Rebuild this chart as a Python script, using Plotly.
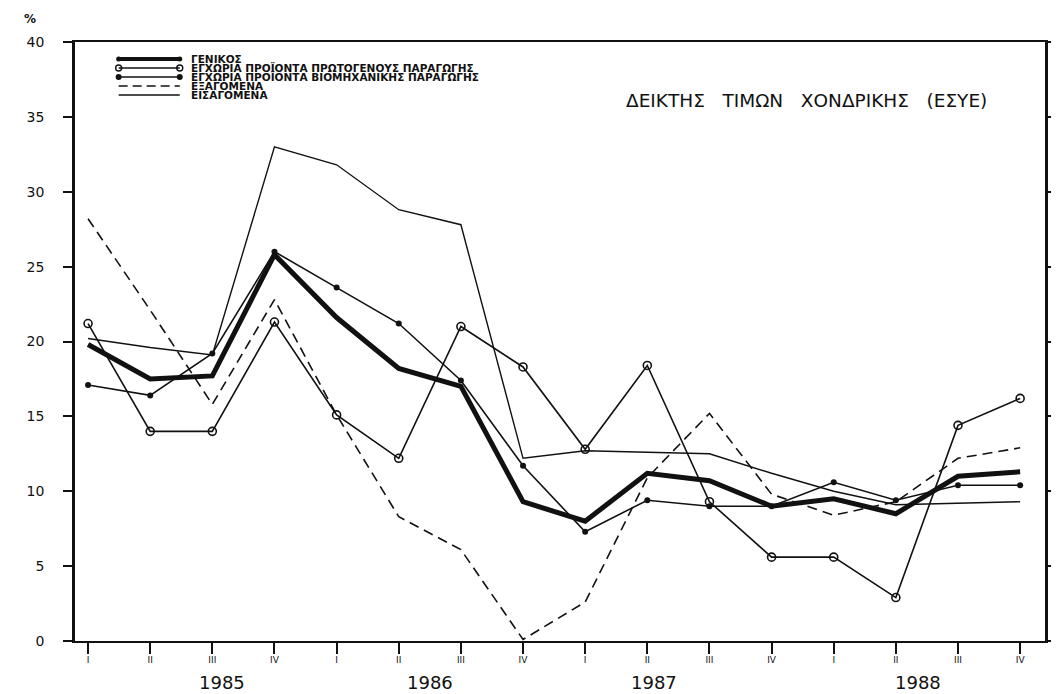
import plotly.graph_objects as go

# quarters 1985 I .. 1988 IV
quarters = ["I", "II", "III", "IV"] * 4
years = ["1985", "1986", "1987", "1988"]

genikos = [19.8, 17.5, 17.7, 25.8, 21.6, 18.2, 17.0, 9.3, 8.0, 11.2, 10.7, 9.0, 9.5, 8.5, 11.0, 11.3]
protogenous = [21.2, 14.0, 14.0, 21.3, 15.1, 12.2, 21.0, 18.3, 12.8, 18.4, 9.3, 5.6, 5.6, 2.9, 14.4, 16.2]
viomichanikis = [17.1, 16.4, 19.2, 26.0, 23.6, 21.2, 17.4, 11.7, 7.3, 9.4, 9.0, 9.0, 10.6, 9.4, 10.4, 10.4]
exagomena = [28.2, 22.1, 15.8, 22.8, 15.1, 8.3, 6.1, 0.1, 2.6, 10.9, 15.2, 9.8, 8.4, 9.3, 12.2, 12.9]
eisagomena = [20.2, 19.6, 19.1, 33.0, 31.8, 28.8, 27.8, 12.2, 12.7, 12.6, 12.5, 11.2, 10.0, 9.1, 9.2, 9.3]

legend_labels = [
    "ΓΕΝΙΚΟΣ",
    "ΕΓΧΩΡΙΑ ΠΡΟΪΟΝΤΑ ΠΡΩΤΟΓΕΝΟΥΣ ΠΑΡΑΓΩΓΗΣ",
    "ΕΓΧΩΡΙΑ ΠΡΟΪΟΝΤΑ ΒΙΟΜΗΧΑΝΙΚΗΣ ΠΑΡΑΓΩΓΗΣ",
    "ΕΞΑΓΟΜΕΝΑ",
    "ΕΙΣΑΓΟΜΕΝΑ",
]

INK = "#111111"
FONT = "DejaVu Sans"
x = list(range(len(quarters)))

styles = [
    dict(line=dict(color=INK, width=5), mode="lines"),
    dict(line=dict(color=INK, width=1.6), mode="lines+markers",
         marker=dict(symbol="circle-open", size=8, color=INK, line=dict(width=1.6))),
    dict(line=dict(color=INK, width=1.6), mode="lines+markers",
         marker=dict(symbol="circle", size=6, color=INK)),
    dict(line=dict(color=INK, width=1.6, dash="10px,6px"), mode="lines"),
    dict(line=dict(color=INK, width=1.4), mode="lines"),
]
series = [eisagomena, exagomena, protogenous, viomichanikis, genikos]
order = [4, 3, 1, 2, 0]

fig = go.Figure()
for s, i in zip(series, order):
    fig.add_trace(go.Scatter(x=x, y=s, name=legend_labels[i], showlegend=False, **styles[i]))

# hand-drawn legend block in the top left corner (overlay axis 0..1)
row_y = [0.9716, 0.9566, 0.9416, 0.9265, 0.9115]
leg_styles = [
    dict(line=dict(color=INK, width=4), mode="lines+markers", marker=dict(size=5, color=INK)),
    dict(line=dict(color=INK, width=1.4), mode="lines+markers",
         marker=dict(symbol="circle-open", size=6, color=INK, line=dict(width=1.4))),
    dict(line=dict(color=INK, width=1.4), mode="lines+markers", marker=dict(size=6, color=INK)),
    dict(line=dict(color=INK, width=1.6, dash="9px,5px"), mode="lines"),
    dict(line=dict(color=INK, width=1.4), mode="lines"),
]
for ry, st, lab in zip(row_y, leg_styles, legend_labels):
    fig.add_trace(go.Scatter(x=[0.045, 0.108], y=[ry, ry], xaxis="x3", yaxis="y3",
                             showlegend=False, hoverinfo="skip", **st))
    fig.add_annotation(x=0.118, y=ry, xref="paper", yref="paper", text="<b>" + lab + "</b>",
                       showarrow=False, xanchor="left", yanchor="middle",
                       font=dict(family=FONT, size=10.5, color=INK))

fig.add_annotation(x=0.754, y=0.923, xref="paper", yref="paper", xanchor="center",
                   text="ΔΕΙΚΤΗΣ   ΤΙΜΩΝ   ΧΟΝΔΡΙΚΗΣ   (ΕΣΥΕ)", showarrow=False,
                   font=dict(family=FONT, size=18.5, color=INK))
fig.add_annotation(x=-0.046, y=1.038, xref="paper", yref="paper", text="<b>%</b>",
                   xanchor="center", yanchor="middle",
                   showarrow=False, font=dict(family=FONT, size=12, color=INK))

year_x = [2.15, 5.5, 9.1, 13.35]
for yx, yr in zip(year_x, years):
    fig.add_annotation(x=yx, y=-0.07, xref="x", yref="paper", text=yr, showarrow=False,
                       xanchor="center", yanchor="middle",
                       font=dict(family=FONT, size=18, color=INK))

axis_common = dict(showgrid=False, zeroline=False, showline=True, linecolor=INK,
                   ticks="outside", tickcolor=INK, automargin=False)

# page body has an 8px margin, so the figure is 8px smaller than the window
fig.update_layout(
    width=1051, height=686,
    margin=dict(l=67, r=14, t=34, b=53),
    plot_bgcolor="white", paper_bgcolor="white",
    font=dict(family=FONT, color=INK),
    xaxis=dict(range=[-0.21, 15.4], tickvals=x, ticktext=quarters, ticklen=11,
               tickwidth=1.5, tickfont=dict(size=9, color=INK), ticklabelstandoff=-2,
               mirror=True, linewidth=2, **axis_common),
    yaxis=dict(range=[0, 40], dtick=5, ticklen=9, tickwidth=1.5, linewidth=2.5,
               tickfont=dict(size=14, color=INK), ticklabelstandoff=16, **axis_common),
    yaxis2=dict(range=[0, 40], dtick=5, overlaying="y", side="right", ticklen=9,
                tickwidth=1.5, linewidth=2.5, tickfont=dict(size=14, color=INK), **axis_common),
    xaxis3=dict(range=[0, 1], overlaying="x", visible=False),
    yaxis3=dict(range=[0, 1], overlaying="y", visible=False),
)
# dummy invisible trace so the right axis is drawn
fig.add_trace(go.Scatter(x=[None], y=[None], yaxis="y2", showlegend=False))

fig.write_html("out.html")
